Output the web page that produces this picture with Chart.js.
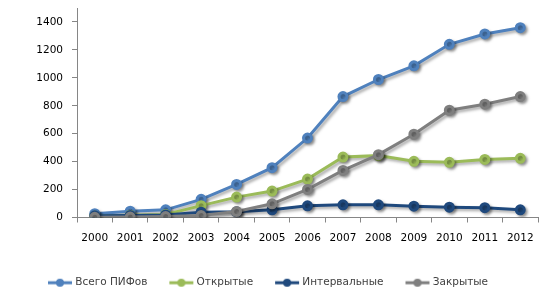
<!DOCTYPE html>
<html>
<head>
<meta charset="utf-8">
<script src="https://cdn.jsdelivr.net/npm/chart.js@4.4.1/dist/chart.umd.min.js"></script>
<style>
  html, body { margin: 0; padding: 0; background: #fff; }
  #wrap { width: 556px; height: 305px; }
</style>
</head>
<body>
<div id="wrap"><canvas id="pifChart" width="556" height="305"></canvas></div>
<script>
const years = ['2000', '2001', '2002', '2003', '2004', '2005', '2006', '2007', '2008', '2009', '2010', '2011', '2012'];
const totalFunds = [27, 45, 55, 130, 237, 357, 569, 866, 988, 1086, 1240, 1314, 1359];
const openFunds = [10, 17, 22, 85, 146, 189, 275, 433, 443, 402, 395, 416, 424];
const intervalFunds = [12, 15, 18, 38, 41, 55, 84, 91, 91, 81, 74, 70, 55];
const closedFunds = [1, 3, 7, 14, 43, 98, 201, 337, 450, 596, 768, 811, 866];
const yTicks = [0, 200, 400, 600, 800, 1000, 1200, 1400];

const axisColor = '#868686';

// legend marker: short line with a dot in the middle
function legendMarker(color) {
  const c = document.createElement('canvas');
  c.width = 26;
  c.height = 10;
  const g = c.getContext('2d');
  g.strokeStyle = color;
  g.lineWidth = 3;
  g.beginPath();
  g.moveTo(1, 5);
  g.lineTo(25, 5);
  g.stroke();
  g.fillStyle = color;
  g.beginPath();
  g.arc(13, 5, 4, 0, Math.PI * 2);
  g.fill();
  return c;
}

function series(label, data, color, order) {
  return {
    label,
    data,
    borderColor: color,
    backgroundColor: color,
    pointBackgroundColor: color,
    pointBorderColor: color,
    borderWidth: 3,
    pointRadius: 4,
    pointHoverRadius: 4,
    tension: 0,
    order,
    pointStyle: 'circle',
    legendStyle: legendMarker(color)
  };
}

// soft drop shadow under the lines, like the original
const shadowPlugin = {
  id: 'lineShadow',
  beforeDatasetsDraw(chart) {
    const ctx = chart.ctx;
    ctx.save();
    ctx.shadowColor = 'rgba(0,0,0,0.35)';
    ctx.shadowBlur = 3;
    ctx.shadowOffsetX = 2;
    ctx.shadowOffsetY = 2;
  },
  afterDatasetsDraw(chart) {
    chart.ctx.restore();
  }
};

new Chart(document.getElementById('pifChart'), {
  type: 'line',
  data: {
    labels: years,
    datasets: [
      series('Всего ПИФов', totalFunds, '#4f81bd', 4),
      series('Открытые', openFunds, '#9bbb59', 3),
      series('Интервальные', intervalFunds, '#1f497d', 2),
      series('Закрытые', closedFunds, '#7f7f7f', 1)
    ]
  },
  options: {
    responsive: false,
    animation: false,
    layout: { padding: { top: 8, right: 18, bottom: 7, left: 0 } },
    plugins: {
      tooltip: { enabled: false },
      legend: {
        position: 'bottom',
        labels: {
          usePointStyle: true,
          pointStyleWidth: 20,
          padding: 24,
          color: '#404040',
          font: { family: 'DejaVu Sans', size: 10.5 },
          generateLabels(chart) {
            return chart.data.datasets.map((ds, i) => ({
              text: ds.label,
              datasetIndex: i,
              pointStyle: ds.legendStyle,
              fillStyle: ds.borderColor,
              strokeStyle: ds.borderColor,
              lineWidth: 0,
              fontColor: '#404040',
              hidden: false
            }));
          }
        }
      }
    },
    scales: {
      x: {
        offset: true,
        grid: {
          offset: true,
          drawOnChartArea: false,
          drawTicks: true,
          tickLength: 5,
          color: axisColor
        },
        border: { color: axisColor, width: 1 },
        ticks: {
          color: '#000',
          padding: 9,
          maxRotation: 0,
          autoSkip: false,
          font: { family: 'DejaVu Sans', size: 10.5 }
        },
        afterFit: scale => { scale.height = 36; }
      },
      y: {
        min: 0,
        max: 1500,
        afterBuildTicks: scale => { scale.ticks = yTicks.map(v => ({ value: v })); },
        grid: {
          drawOnChartArea: false,
          drawTicks: true,
          tickLength: 5,
          color: axisColor
        },
        border: { color: axisColor, width: 1 },
        ticks: {
          color: '#000',
          padding: 9,
          font: { family: 'DejaVu Sans', size: 10.5 },
          callback: v => String(v)
        },
        afterFit: scale => {
          scale.width = 77;
          scale.paddingTop = 0;
        }
      }
    }
  },
  plugins: [shadowPlugin]
});
</script>
</body>
</html>
